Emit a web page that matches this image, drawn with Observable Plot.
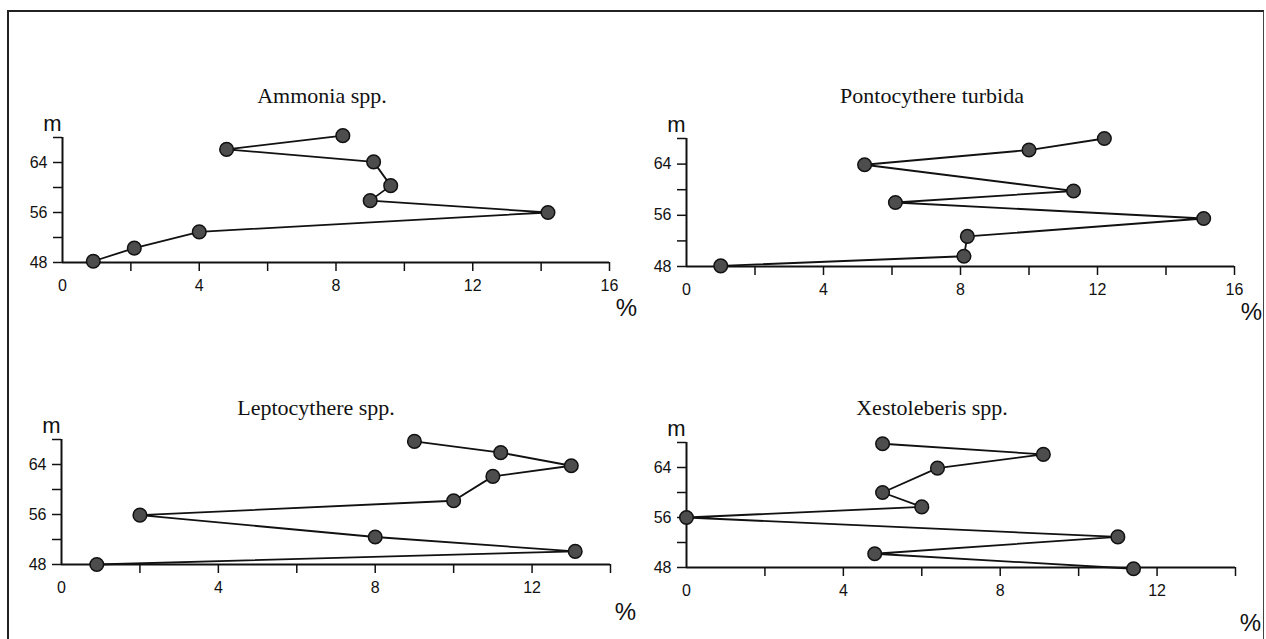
<!DOCTYPE html>
<html>
<head>
<meta charset="utf-8">
<script src="https://cdn.jsdelivr.net/npm/d3@7"></script>
<script src="https://cdn.jsdelivr.net/npm/@observablehq/plot@0.6"></script>
<style>
  html, body { margin: 0; padding: 0; background: #fff; }
  #page { position: relative; width: 1266px; height: 639px; overflow: hidden; background: #fff; }
  #frame { position: absolute; left: 7px; top: 10px; width: 1254px; height: 640px;
           border-left: 2px solid #222; border-top: 2px solid #222; border-right: 1.5px solid #444; }
  .title { position: absolute; font-family: "Liberation Serif", "Times New Roman", serif; font-size: 22px;
           color: #111; transform: translate(-50%, -50%); white-space: nowrap; }
  .panel { position: absolute; }
</style>
</head>
<body>
<div id="page">
  <div id="frame"></div>
</div>
<script>
// ---- data ----
const titles = ["Ammonia spp.", "Pontocythere turbida", "Leptocythere spp.", "Xestoleberis spp."];

const ammoniaDepth = [68.3, 66.1, 64.1, 60.3, 57.9, 56.0, 52.9, 50.3, 48.2];
const ammoniaPct   = [8.2, 4.8, 9.1, 9.6, 9.0, 14.2, 4.0, 2.1, 0.9];

const pontoDepth = [68.0, 66.2, 63.9, 59.8, 58.0, 55.5, 52.7, 49.6, 48.1];
const pontoPct   = [12.2, 10.0, 5.2, 11.3, 6.1, 15.1, 8.2, 8.1, 1.0];

const leptoDepth = [67.7, 65.9, 63.8, 62.1, 58.2, 55.9, 52.4, 50.1, 48.0];
const leptoPct   = [9.0, 11.2, 13.0, 11.0, 10.0, 2.0, 8.0, 13.1, 0.9];

const xestoDepth = [67.8, 66.1, 63.9, 60.0, 57.7, 56.0, 52.9, 50.2, 47.8];
const xestoPct   = [5.0, 9.1, 6.4, 5.0, 6.0, 0.0, 11.0, 4.8, 11.4];

const depthTicks = [48, 52, 56, 60, 64, 68];
const depthLabels = [48, 56, 64];
const pctLabels16 = [0, 4, 8, 12, 16];
const pctLabels14 = [0, 4, 8, 12];

// ---- layout ----
const panels = [
  {title: titles[0], depth: ammoniaDepth, pct: ammoniaPct, xMax: 16, labels: pctLabels16,
   left: 0, top: 100, width: 640, height: 230, mL: 62, mR: 31, mT: 37, mB: 68,
   tx: 322, ty: 96, pdx: 17, pdy: 46},
  {title: titles[1], depth: pontoDepth, pct: pontoPct, xMax: 16, labels: pctLabels16,
   left: 624, top: 100, width: 640, height: 230, mL: 62, mR: 30, mT: 38, mB: 64,
   tx: 932, ty: 96, pdx: 17, pdy: 46},
  {title: titles[2], depth: leptoDepth, pct: leptoPct, xMax: 14, labels: pctLabels14,
   left: 0, top: 400, width: 640, height: 239, mL: 61, mR: 30, mT: 39, mB: 75,
   tx: 316, ty: 408, pdx: 15, pdy: 48},
  {title: titles[3], depth: xestoDepth, pct: xestoPct, xMax: 14, labels: pctLabels14,
   left: 624, top: 400, width: 640, height: 239, mL: 62, mR: 29, mT: 42, mB: 72,
   tx: 932, ty: 408, pdx: 15, pdy: 56}
];

const page = document.getElementById("page");

for (const p of panels) {
  const data = p.depth.map((d, i) => ({depth: d, pct: p.pct[i]}));
  const minorTicks = d3.range(2, p.xMax + 0.001, 2);
  const chart = Plot.plot({
    width: p.width, height: p.height,
    marginLeft: p.mL, marginRight: p.mR, marginTop: p.mT, marginBottom: p.mB,
    style: {fontFamily: "'Liberation Sans', Arial, sans-serif", fontSize: "16px", color: "#111",
            background: "transparent", overflow: "visible"},
    x: {domain: [0, p.xMax], axis: null},
    y: {domain: [48, 68], axis: null},
    marks: [
      // x axis: tick marks every 2 (downward), labels every 4
      Plot.axisX({ticks: minorTicks, tickSize: 9, tickFormat: () => "", label: null,
        stroke: "#111", strokeWidth: 1.5}),
      Plot.axisX({ticks: p.labels, tickSize: 0, tickPadding: 17, label: null, fontSize: 16}),
      // y axis: tick marks every 4, labels every 8
      Plot.axisY({ticks: depthTicks, tickSize: 9, tickPadding: 6, strokeWidth: 1.5, stroke: "#111",
        label: null, tickFormat: d => depthLabels.includes(d) ? String(d) : "", fontSize: 16}),
      Plot.ruleY([48], {stroke: "#111", strokeWidth: 2}),
      Plot.ruleX([0], {stroke: "#111", strokeWidth: 2}),
      // data
      Plot.line(data, {x: "pct", y: "depth", stroke: "#111", strokeWidth: 1.8}),
      Plot.dot(data, {x: "pct", y: "depth", r: 6.8, fill: "#4d4d4d", stroke: "#111", strokeWidth: 1.5}),
      // unit labels
      Plot.text(["m"], {x: 0, y: 68, dx: -10, dy: -14, fontSize: 22, fill: "#111"}),
      Plot.text(["%"], {x: p.xMax, y: 48, dx: p.pdx, dy: p.pdy, fontSize: 24, fill: "#111"})
    ]
  });
  const wrap = document.createElement("div");
  wrap.className = "panel";
  wrap.style.left = p.left + "px";
  wrap.style.top = p.top + "px";
  wrap.appendChild(chart);
  page.appendChild(wrap);

  const t = document.createElement("div");
  t.className = "title";
  t.textContent = p.title;
  t.style.left = p.tx + "px";
  t.style.top = p.ty + "px";
  page.appendChild(t);
}
</script>
</body>
</html>
